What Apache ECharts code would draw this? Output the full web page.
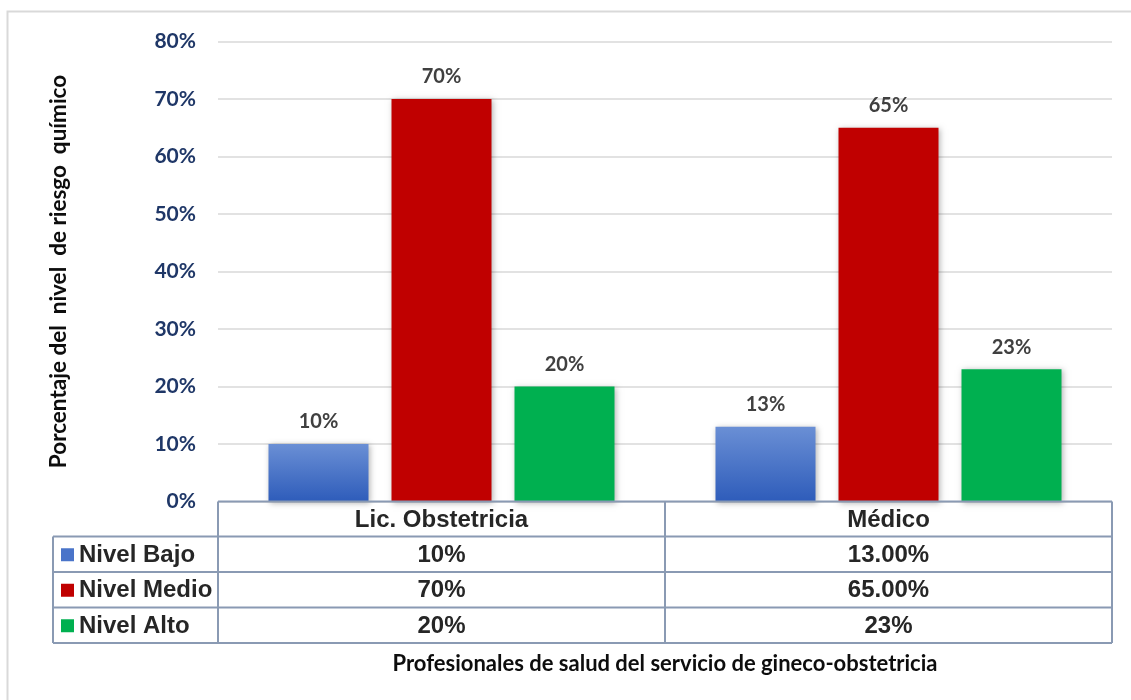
<!DOCTYPE html>
<html>
<head>
<meta charset="utf-8">
<script src="https://cdn.jsdelivr.net/npm/echarts@6/dist/echarts.min.js"></script>
<style>
  html, body { margin: 0; padding: 0; background: #ffffff; }
  #chart { width: 1131px; height: 700px; }
</style>
</head>
<body>
<div id="chart"></div>
<script>
// Professions (x categories)
const categories = ['Lic. Obstetricia', 'Médico'];

// Risk level series, in percent
const seriesNames = ['Nivel Bajo', 'Nivel Medio', 'Nivel Alto'];
const nivelBajo = [10, 13];
const nivelMedio = [70, 65];
const nivelAlto = [20, 23];

// Decimals shown in the data table, per row and column
const tableDecimals = [[0, 2], [0, 2], [0, 0]];

// Y axis ticks
const yMin = 0, yMax = 80, yStep = 10;

const yAxisTitle = 'Porcentaje del  nivel  de riesgo  químico';
const xAxisTitle = 'Profesionales de salud del servicio de gineco-obstetricia';

const seriesValues = [nivelBajo, nivelMedio, nivelAlto];
const seriesColors = [
  new echarts.graphic.LinearGradient(0, 0, 0, 1, [
    { offset: 0, color: '#6a8fd5' },
    { offset: 1, color: '#2e5cba' }
  ]),
  '#c00000',
  '#00b050'
];
const keyColors = ['#4a74c9', '#c00000', '#00b050'];

const W = 1131, H = 700;
const grid = { left: 218, right: 19, top: 41.5, bottom: 198.5 };
const plotLeft = grid.left, plotRight = W - grid.right, plotBottom = H - grid.bottom;
const tableLeft = 53;
const rowEdges = [plotBottom, 536.5, 572, 607.5, 643];
const lineColor = '#8a9ab3';

const chart = echarts.init(document.getElementById('chart'), null, { renderer: 'canvas' });

const option = {
  animation: false,
  backgroundColor: '#ffffff',
  grid: grid,
  xAxis: {
    type: 'category',
    data: categories,
    axisLine: { show: false },
    axisTick: { show: false },
    axisLabel: { show: false },
    name: xAxisTitle,
    nameLocation: 'middle',
    nameGap: 151,
    nameTextStyle: { fontFamily: 'Lato', fontWeight: 'bold', fontSize: 22, color: '#0d0d0d' }
  },
  yAxis: {
    type: 'value',
    min: yMin,
    max: yMax,
    interval: yStep,
    axisLine: { show: false },
    axisTick: { show: false },
    splitLine: { lineStyle: { color: '#d9d9d9', width: 1.5 } },
    axisLabel: {
      formatter: '{value}%',
      margin: 22,
      fontFamily: 'Lato',
      fontWeight: 'bold',
      fontSize: 21,
      color: '#1f3767'
    },
    name: yAxisTitle,
    nameLocation: 'middle',
    nameRotate: 90,
    nameGap: 148,
    nameTextStyle: { fontFamily: 'Lato', fontWeight: 'bold', fontSize: 22.5, color: '#0d0d0d' }
  },
  series: seriesNames.map((name, i) => ({
    name: name,
    type: 'bar',
    data: seriesValues[i],
    barWidth: 100,
    barGap: '23%',
    itemStyle: {
      color: seriesColors[i],
      shadowColor: 'rgba(0,0,0,0.3)',
      shadowBlur: 6,
      shadowOffsetX: 1,
      shadowOffsetY: 1
    },
    label: {
      show: true,
      position: 'top',
      distance: 12,
      formatter: p => p.value + '%',
      fontFamily: 'Lato',
      fontWeight: 'bold',
      fontSize: 20,
      color: '#404040'
    }
  }))
};

chart.setOption(option);

// Data table under the plot: lines, legend keys and cell texts
const graphics = [];
graphics.push({
  type: 'rect',
  shape: { x: 7.5, y: 11.5, width: 1300, height: 900 },
  style: { fill: 'none', stroke: '#d9d9d9', lineWidth: 2 },
  silent: true
});

const centers = categories.map(c => chart.convertToPixel({ xAxisIndex: 0 }, c));
const mid = (centers[0] + centers[1]) / 2;
const vLines = [plotLeft, mid, plotRight];

function hline(y, x1, x2) {
  graphics.push({ type: 'line', shape: { x1: x1, y1: y, x2: x2, y2: y }, style: { stroke: lineColor, lineWidth: 2 }, silent: true, z: 10 });
}
function vline(x, y1, y2) {
  graphics.push({ type: 'line', shape: { x1: x, y1: y1, x2: x, y2: y2 }, style: { stroke: lineColor, lineWidth: 2 }, silent: true, z: 10 });
}

hline(rowEdges[0], plotLeft, plotRight);
for (let r = 1; r < rowEdges.length; r++) hline(rowEdges[r], tableLeft, plotRight);
vline(tableLeft, rowEdges[1], rowEdges[rowEdges.length - 1]);
vLines.forEach(x => vline(x, rowEdges[0], rowEdges[rowEdges.length - 1]));

const cellFont = 'bold 24px "Liberation Sans", Arial, sans-serif';
function cellText(text, x, y, align) {
  graphics.push({
    type: 'text', silent: true, z: 11,
    style: { text: text, x: x, y: y, align: align, verticalAlign: 'middle', font: cellFont, fill: '#262626' }
  });
}

// header row: category names
categories.forEach((c, j) => {
  cellText(c, centers[j], (rowEdges[0] + rowEdges[1]) / 2 + 1, 'center');
});

// series rows: legend key, name and the value per category
seriesNames.forEach((name, i) => {
  const cy = (rowEdges[i + 1] + rowEdges[i + 2]) / 2 + 1;
  graphics.push({
    type: 'rect', silent: true, z: 11,
    shape: { x: 61, y: cy - 7, width: 13, height: 13 },
    style: { fill: keyColors[i] }
  });
  cellText(name, 79, cy, 'left');
  categories.forEach((c, j) => {
    cellText(seriesValues[i][j].toFixed(tableDecimals[i][j]) + '%', centers[j], cy, 'center');
  });
});

chart.setOption({ graphic: { elements: graphics } });
</script>
</body>
</html>
